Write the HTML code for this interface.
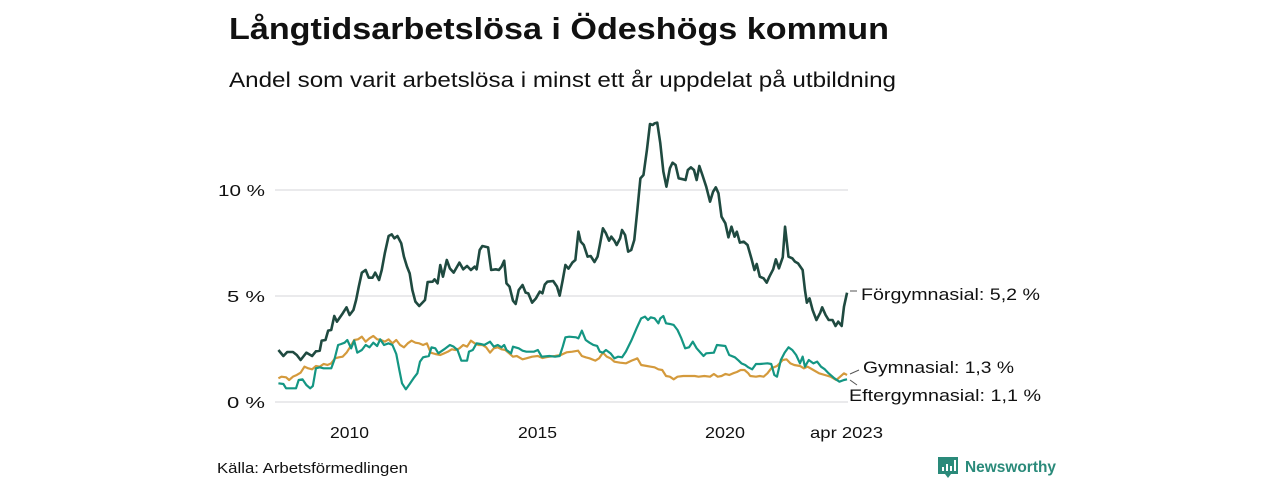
<!DOCTYPE html>
<html><head><meta charset="utf-8"><style>
html,body{margin:0;padding:0;background:#fff;}
svg{display:block;font-family:"Liberation Sans",sans-serif;}
</style></head><body>
<svg width="1280" height="480" viewBox="0 0 1280 480">
<text x="229" y="39" font-size="31" font-weight="bold" fill="#111" textLength="660" lengthAdjust="spacingAndGlyphs">Långtidsarbetslösa i Ödeshögs kommun</text>
<text x="229" y="87" font-size="21" fill="#111" textLength="667" lengthAdjust="spacingAndGlyphs">Andel som varit arbetslösa i minst ett år uppdelat på utbildning</text>
<g stroke="#e3e3e6" stroke-width="1.5">
<line x1="275" y1="190" x2="848" y2="190"/>
<line x1="275" y1="296" x2="848" y2="296"/>
<line x1="275" y1="402" x2="848" y2="402"/>
</g>
<g font-size="16" fill="#111" text-anchor="end">
<text x="265" y="196" textLength="47" lengthAdjust="spacingAndGlyphs">10 %</text>
<text x="265" y="302" textLength="38" lengthAdjust="spacingAndGlyphs">5 %</text>
<text x="265" y="408" textLength="38" lengthAdjust="spacingAndGlyphs">0 %</text>
</g>
<g font-size="16" fill="#111">
<text x="330" y="438" textLength="39" lengthAdjust="spacingAndGlyphs">2010</text>
<text x="518" y="438" textLength="39" lengthAdjust="spacingAndGlyphs">2015</text>
<text x="705" y="438" textLength="40" lengthAdjust="spacingAndGlyphs">2020</text>
<text x="810" y="438" textLength="73" lengthAdjust="spacingAndGlyphs">apr 2023</text>
</g>
<g transform="translate(270,110) scale(0.38265,0.33333)" fill="none" stroke-linejoin="round">
<polyline vector-effect="non-scaling-stroke" stroke="#d49a3c" stroke-width="2.2" points="22,805 30,800 42,802 50,810 60,800 70,795 80,788 90,770 100,775 110,778 120,768 130,770 140,762 150,765 160,760 170,745 180,742 190,740 200,728 210,710 220,690 230,688 240,680 250,695 260,685 270,678 280,688 290,690 300,695 310,688 320,700 330,690 340,705 350,712 360,700 370,692 380,698 390,700 400,705 410,700 420,728 432,732 445,735 455,730 465,725 475,718 485,720 495,715 505,705 515,710 525,692 535,700 545,705 555,705 565,712 575,728 585,715 595,712 605,718 615,720 625,730 635,740 645,738 660,748 670,745 685,740 700,738 712,744 720,742 730,740 745,738 760,735 775,727 790,725 805,722 815,738 825,742 835,745 850,752 860,745 870,728 880,740 890,745 900,755 915,758 930,760 945,752 960,745 970,765 985,768 995,770 1005,772 1015,778 1025,780 1035,798 1045,800 1055,808 1065,800 1080,798 1095,798 1110,798 1120,800 1135,798 1150,800 1160,792 1170,800 1180,798 1190,792 1200,795 1210,790 1220,786 1230,780 1240,780 1250,790 1255,798 1270,800 1280,798 1290,800 1300,790 1310,775 1325,768 1340,750 1350,748 1360,760 1370,765 1385,768 1395,775 1405,770 1420,780 1435,790 1450,795 1465,800 1480,810 1490,800 1500,790 1508,795"/>
<polyline vector-effect="non-scaling-stroke" stroke="#149683" stroke-width="2.2" points="22,820 35,822 42,835 68,835 75,810 85,808 95,825 105,835 112,828 120,775 130,772 140,775 160,775 168,750 178,705 186,702 195,698 202,690 212,715 220,692 228,728 240,720 250,705 260,712 270,698 280,708 288,688 298,705 310,700 320,705 330,732 338,780 345,820 355,838 365,822 375,805 385,790 392,755 400,742 415,738 422,712 432,715 440,730 455,718 470,705 480,710 490,720 500,752 515,752 520,725 530,720 540,700 550,702 560,705 575,695 585,710 595,705 605,712 612,705 618,720 630,730 635,710 650,715 660,722 670,725 690,725 700,720 710,740 730,738 745,740 757,738 765,710 772,682 782,680 800,682 806,685 815,662 825,690 835,698 845,705 855,708 862,725 870,728 878,720 890,730 900,745 910,740 920,742 930,725 945,690 958,655 970,625 980,620 988,630 995,622 1005,625 1015,640 1020,625 1028,618 1035,640 1045,642 1055,645 1065,660 1075,685 1085,715 1095,712 1105,695 1115,715 1125,728 1133,738 1140,730 1160,728 1168,705 1190,708 1200,735 1215,742 1225,752 1232,760 1242,765 1250,772 1260,778 1270,762 1280,762 1300,760 1310,762 1318,795 1325,800 1335,750 1345,728 1355,712 1365,720 1375,735 1385,760 1392,740 1398,770 1408,750 1420,760 1430,755 1440,770 1450,778 1460,790 1475,805 1488,815 1500,810 1508,808"/>
<polyline vector-effect="non-scaling-stroke" stroke="#1f4a40" stroke-width="2.6" points="22,720 35,738 45,726 60,726 70,735 80,750 95,728 110,738 120,724 130,722 135,692 145,690 152,662 160,660 168,618 175,635 190,610 200,592 208,615 218,600 225,570 232,530 240,488 250,480 258,503 268,503 275,488 285,510 292,480 300,430 310,378 318,373 325,385 333,378 343,400 350,440 358,470 365,490 372,540 380,575 390,588 405,570 412,516 425,515 430,508 438,520 445,465 452,500 462,450 470,475 480,488 495,458 505,478 515,468 525,480 535,470 540,478 548,420 555,408 570,412 578,480 590,478 598,480 605,470 612,452 618,520 626,530 635,572 642,582 650,540 660,525 668,548 675,550 685,578 695,565 705,545 712,550 718,524 725,515 740,513 750,530 757,557 765,510 772,465 780,476 790,458 798,450 806,365 812,395 820,405 830,440 838,438 848,456 856,440 862,405 870,355 878,370 886,392 892,380 900,392 906,405 915,385 920,360 928,375 936,425 944,420 952,390 960,300 968,205 976,195 985,120 993,42 1000,45 1005,40 1012,38 1020,100 1028,185 1036,230 1045,175 1052,158 1060,165 1068,205 1080,208 1086,210 1092,180 1100,172 1108,180 1115,210 1122,168 1130,195 1140,230 1150,275 1158,245 1165,232 1172,250 1180,320 1190,340 1198,382 1206,350 1214,380 1220,365 1228,398 1238,395 1248,405 1258,445 1266,480 1272,462 1280,500 1290,505 1298,518 1305,500 1315,478 1322,448 1330,475 1340,442 1346,350 1355,440 1365,445 1372,455 1380,460 1392,480 1398,540 1403,578 1410,565 1418,600 1428,630 1438,608 1443,592 1452,615 1460,630 1470,630 1478,648 1485,635 1494,648 1500,590 1508,548"/>
</g>
<g stroke="#555" stroke-width="1">
<line x1="850" y1="291" x2="857" y2="291"/>
<line x1="850" y1="374" x2="859" y2="370"/>
<line x1="850" y1="380" x2="857" y2="385"/>
</g>
<g font-size="17" fill="#111">
<text x="861" y="300" textLength="179" lengthAdjust="spacingAndGlyphs">Förgymnasial: 5,2 %</text>
<text x="863" y="373" textLength="151" lengthAdjust="spacingAndGlyphs">Gymnasial: 1,3 %</text>
<text x="849" y="401" textLength="192" lengthAdjust="spacingAndGlyphs">Eftergymnasial: 1,1 %</text>
</g>
<text x="217" y="473" font-size="15" fill="#111" textLength="191" lengthAdjust="spacingAndGlyphs">Källa: Arbetsförmedlingen</text>
<g>
<path d="M938 457 h20 v17 h-7 l-3 4 l-3 -4 h-7 z" fill="#2a8a7a"/>
<rect x="942" y="467" width="2" height="4" fill="#fff"/>
<rect x="946" y="464" width="2" height="7" fill="#fff"/>
<rect x="950" y="466" width="2" height="5" fill="#fff"/>
<rect x="954" y="460" width="2" height="11" fill="#fff"/>
<text x="965" y="472" font-size="16" font-weight="bold" fill="#2a8a7a" textLength="91" lengthAdjust="spacingAndGlyphs">Newsworthy</text>
</g>
</svg>
</body></html>
